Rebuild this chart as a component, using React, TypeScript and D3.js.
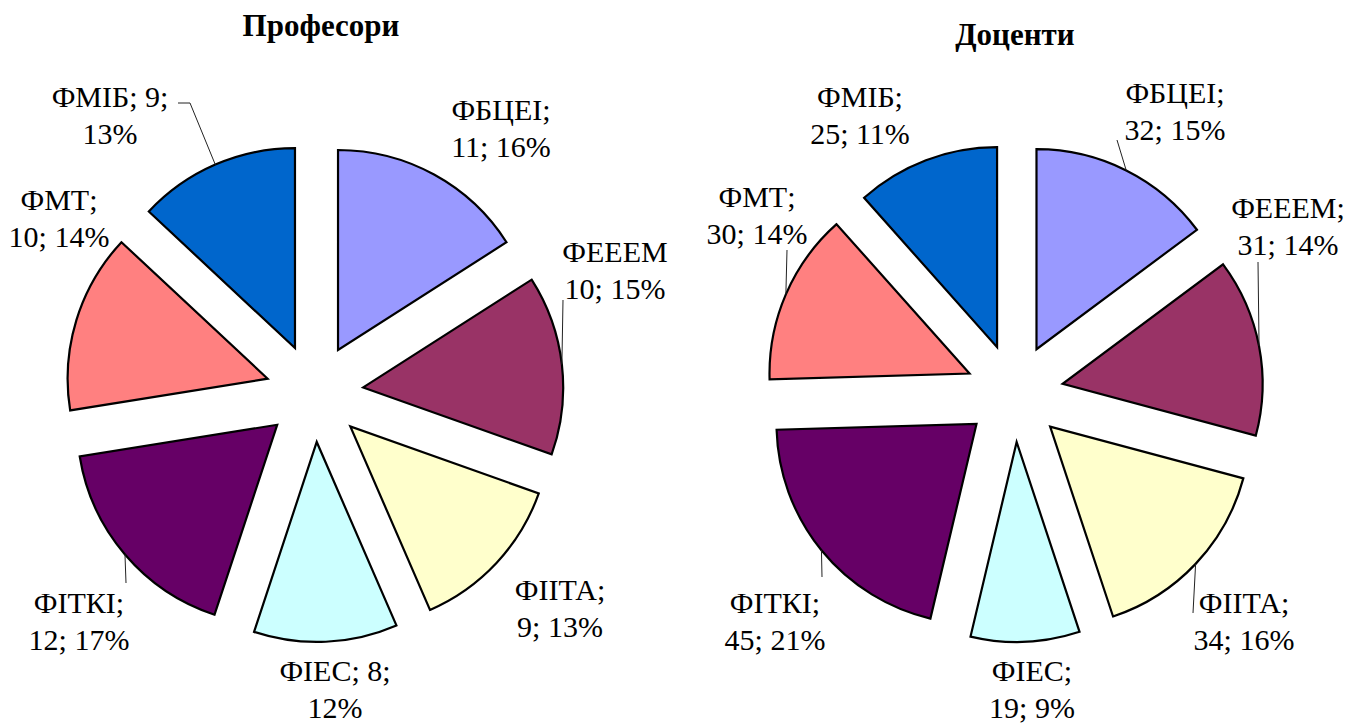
import React from "react";
import * as d3 from "d3";

const categories = ["ФБЦЕІ", "ФЕЕЕМ", "ФІІТА", "ФІЕС", "ФІТКІ", "ФМТ", "ФМІБ"];
const profValues = [11, 10, 9, 8, 12, 10, 9];
const profPercents = [16, 15, 13, 12, 17, 14, 13];
const docValues = [32, 31, 34, 19, 45, 30, 25];
const docPercents = [15, 14, 16, 9, 21, 14, 11];
const colors = ["#9999FF", "#993366", "#FFFFCC", "#CCFFFF", "#660066", "#FF8080", "#0066CC"];
const titles = ["Професори", "Доценти"];

// layout (label positions relative to pie centre, first-line baseline)
type Lay = { dx: number; dy: number; split: number; noSemi?: boolean; leader?: number[][] };
const profLayout: Lay[] = [
  { dx: 186.5, dy: -273, split: 1 },
  { dx: 300.5, dy: -131, split: 1, noSemi: true, leader: [[248.5, -93]] },
  { dx: 245.5, dy: 207, split: 1 },
  { dx: 20.5, dy: 288, split: 2 },
  { dx: -235.5, dy: 220, split: 1, leader: [[-188.5, 190]] },
  { dx: -255.5, dy: -183, split: 1 },
  { dx: -204.5, dy: -286, split: 2, leader: [[-136.5, -290], [-124.5, -290]] },
];
const docLayout: Lay[] = [
  { dx: 160.5, dy: -290, split: 1, leader: [[102.5, -253]] },
  { dx: 273.5, dy: -175, split: 1, leader: [[243.5, -131]] },
  { dx: 229.5, dy: 220, split: 1, leader: [[178.5, 220]] },
  { dx: 17.5, dy: 288, split: 1 },
  { dx: -239.5, dy: 220, split: 1, leader: [[-192.5, 184]] },
  { dx: -257.5, dy: -186, split: 1, leader: [[-227.5, -143]] },
  { dx: -154.5, dy: -286, split: 1 },
];

const R = 200;
const EXPLODE = 49;
const FONT = "Liberation Serif, Times New Roman, serif";

function Pie({ cx, cy, values, percents, layout, title, titleDx, titleDy }: any) {
  const pie = d3.pie<number>().sort(null).value((d) => d).startAngle(0).endAngle(2 * Math.PI);
  const arcs = pie(values);
  const arc = d3.arc<any>().innerRadius(0).outerRadius(R);
  return (
    <g transform={`translate(${cx},${cy})`}>
      <text x={titleDx} y={titleDy} textAnchor="middle" style={{ fontFamily: FONT, fontWeight: "bold", fontSize: "31px" }}>
        {title}
      </text>
      {arcs.map((a, i) => {
        const mid = (a.startAngle + a.endAngle) / 2;
        const ox = Math.sin(mid) * EXPLODE;
        const oy = -Math.cos(mid) * EXPLODE;
        return (
          <path
            key={i}
            d={arc(a) as string}
            transform={`translate(${ox},${oy})`}
            fill={colors[i]}
            stroke="#000"
            strokeWidth={2.2}
            strokeLinejoin="miter"
          />
        );
      })}
      {arcs.map((a, i) => {
        const lay: Lay = layout[i];
        if (!lay.leader) return null;
        const mid = (a.startAngle + a.endAngle) / 2;
        const ex = Math.sin(mid) * (EXPLODE + R);
        const ey = -Math.cos(mid) * (EXPLODE + R);
        const pts = [...lay.leader, [ex, ey]];
        return (
          <polyline
            key={"l" + i}
            points={pts.map((p) => p.join(",")).join(" ")}
            fill="none"
            stroke="#222"
            strokeWidth={1}
          />
        );
      })}
      {arcs.map((a, i) => {
        const lay: Lay = layout[i];
        const name = categories[i] + (lay.noSemi ? "" : ";");
        const v = values[i] + ";";
        const p = percents[i] + "%";
        const lines = lay.split === 2 ? [name + " " + v, p] : [name, v + " " + p];
        return (
          <text key={"t" + i} textAnchor="middle" style={{ fontFamily: FONT, fontSize: "30px", fontWeight: 400 }} fill="#000">
            {lines.map((ln, j) => (
              <tspan key={j} x={lay.dx} y={lay.dy + j * 36.5}>
                {ln}
              </tspan>
            ))}
          </text>
        );
      })}
    </g>
  );
}

export default function App() {
  return (
    <svg
      width={1366}
      height={723}
      style={{ position: "absolute", left: 0, top: 0, background: "#fff" }}
    >
      <rect width={1366} height={723} fill="#fff" />
      <Pie cx={314.5} cy={393} values={profValues} percents={profPercents} layout={profLayout}
        title={titles[0]} titleDx={6.5} titleDy={-357} />
      <Pie cx={1014.5} cy={393} values={docValues} percents={docPercents} layout={docLayout}
        title={titles[1]} titleDx={0.5} titleDy={-348} />
    </svg>
  );
}
